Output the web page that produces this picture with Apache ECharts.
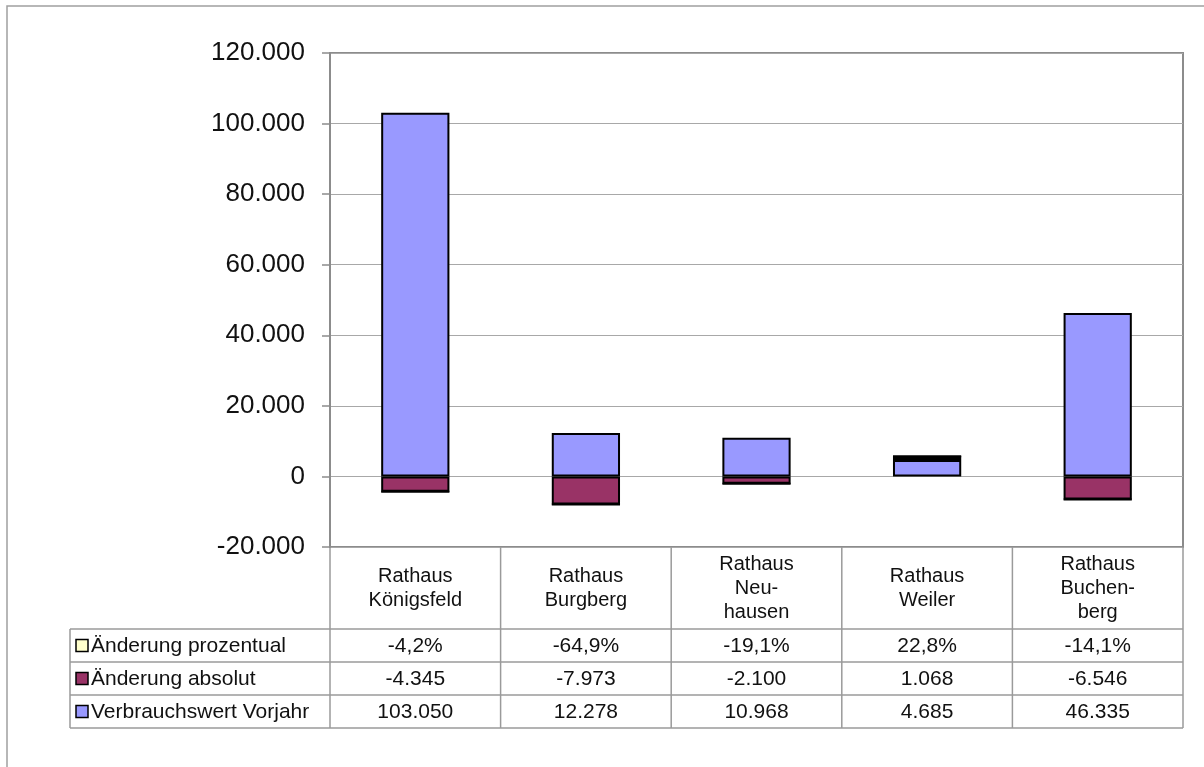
<!DOCTYPE html>
<html>
<head>
<meta charset="utf-8">
<script src="https://cdn.jsdelivr.net/npm/echarts@6/dist/echarts.min.js"></script>
<style>
html,body{margin:0;padding:0;background:#fff;}
#chart{width:1204px;height:767px;}
</style>
</head>
<body>
<div id="chart"></div>
<script>
const categories = ['Rathaus\nKönigsfeld', 'Rathaus\nBurgberg', 'Rathaus\nNeu-\nhausen', 'Rathaus\nWeiler', 'Rathaus\nBuchen-\nberg'];
const seriesNames = ['Änderung prozentual', 'Änderung absolut', 'Verbrauchswert Vorjahr'];
const prozentual = [-4.2, -64.9, -19.1, 22.8, -14.1];
const absolut = [-4345, -7973, -2100, 1068, -6546];
const vorjahr = [103050, 12278, 10968, 4685, 46335];
const yTicks = { min: -20000, max: 120000, interval: 20000 };
const colors = { prozentual: '#FFFFCC', absolut: '#993366', vorjahr: '#9999FF' };

function fmtNum(v) {
  const s = Math.abs(Math.round(v)).toString().replace(/\B(?=(\d{3})+(?!\d))/g, '.');
  return (v < 0 ? '-' : '') + s;
}
function fmtPct(v) {
  return v.toFixed(1).replace('.', ',') + '%';
}

const FONT = '"Liberation Sans", Arial, sans-serif';
const chart = echarts.init(document.getElementById('chart'));
const gridL = 330, gridT = 53, gridR = 1183, gridB = 547;

const barStyle = (c) => ({ color: c, borderColor: '#000', borderWidth: 2 });

chart.setOption({
  animation: false,
  grid: { left: gridL, top: gridT, width: gridR - gridL, height: gridB - gridT, show: true, borderColor: '#8c8c8c', borderWidth: 2, backgroundColor: 'transparent' },
  xAxis: {
    type: 'category', data: categories, position: 'bottom',
    axisLine: { show: false }, axisTick: { show: false },
    axisLabel: { show: true, fontFamily: FONT, fontSize: 20, color: '#111', lineHeight: 24, margin: 41, verticalAlign: 'middle', align: 'center', interval: 0 }
  },
  yAxis: {
    type: 'value', min: yTicks.min, max: yTicks.max, interval: yTicks.interval,
    axisLine: { show: true, lineStyle: { color: '#8c8c8c', width: 2 } },
    axisTick: { show: true, length: 8, lineStyle: { color: '#8c8c8c', width: 1.5 } },
    splitLine: { show: true, lineStyle: { color: '#a8a8a8', width: 1.2 } },
    axisLabel: { fontFamily: FONT, fontSize: 26, color: '#111', margin: 25, formatter: fmtNum }
  },
  series: [
    { name: seriesNames[2], type: 'bar', stack: 's', data: vorjahr, barWidth: '40%', itemStyle: barStyle(colors.vorjahr) },
    { name: seriesNames[1], type: 'bar', stack: 's', data: absolut, itemStyle: barStyle(colors.absolut) },
    { name: seriesNames[0], type: 'bar', stack: 's', data: prozentual.map(v => v / 100), itemStyle: barStyle(colors.prozentual) }
  ]
});

// data table below the chart
const rowTops = [629, 662, 695, 728];
const tableLeft = 70;
const rows = [
  { name: seriesNames[0], color: colors.prozentual, vals: prozentual.map(fmtPct) },
  { name: seriesNames[1], color: colors.absolut, vals: absolut.map(fmtNum) },
  { name: seriesNames[2], color: colors.vorjahr, vals: vorjahr.map(fmtNum) }
];
const lineStyle = { stroke: '#9a9a9a', lineWidth: 1.5 };
const g = [];
g.push({ type: 'rect', shape: { x: 7, y: 6, width: 1300, height: 900 }, style: { fill: 'none', stroke: '#a0a0a0', lineWidth: 1.5 }, silent: true });
const half = (gridR - gridL) / categories.length / 2;
const centers = categories.map((c, i) => chart.convertToPixel({ xAxisIndex: 0 }, i));
const bounds = [gridL].concat(centers.map(cx => cx + half));
bounds.forEach(x => {
  g.push({ type: 'line', shape: { x1: x, y1: gridB, x2: x, y2: rowTops[3] }, style: lineStyle, silent: true });
});
g.push({ type: 'line', shape: { x1: tableLeft, y1: rowTops[0], x2: tableLeft, y2: rowTops[3] }, style: lineStyle, silent: true });
rowTops.forEach(y => {
  g.push({ type: 'line', shape: { x1: tableLeft, y1: y, x2: gridR, y2: y }, style: lineStyle, silent: true });
});
rows.forEach((r, ri) => {
  const cy = (rowTops[ri] + rowTops[ri + 1]) / 2 + 1;
  g.push({ type: 'rect', shape: { x: 76, y: cy - 7, width: 12, height: 12 }, style: { fill: r.color, stroke: '#000', lineWidth: 1.5 }, silent: true });
  g.push({ type: 'text', x: 91, y: cy, style: { text: r.name, font: '21px ' + FONT, fill: '#111', textVerticalAlign: 'middle', textAlign: 'left' }, silent: true });
  r.vals.forEach((v, i) => {
    g.push({ type: 'text', x: centers[i], y: cy, style: { text: v, font: '21px ' + FONT, fill: '#111', textVerticalAlign: 'middle', textAlign: 'center' }, silent: true });
  });
});
chart.setOption({ graphic: g });
</script>
</body>
</html>
